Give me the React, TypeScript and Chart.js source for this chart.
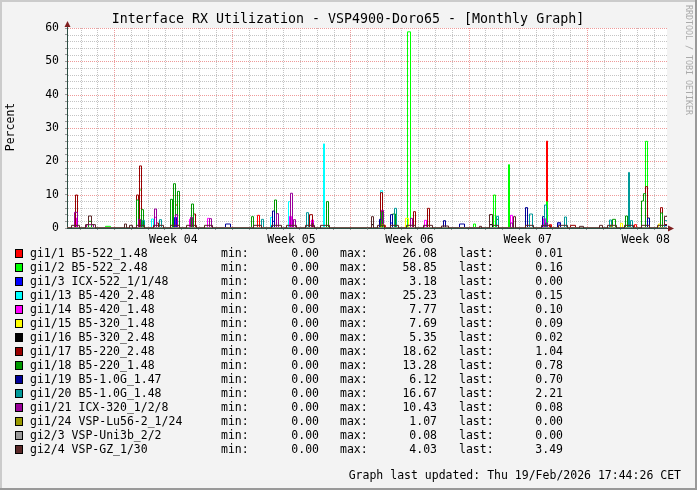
import React, { useEffect, useRef } from 'react';
import { Chart, registerables } from 'chart.js';

Chart.register(...registerables);

// ---- axis / time data (x in days relative to Sun 18 Jan 2026 00:00) ----
const X_MIN = -2.804;
const X_MAX = 32.762;
const DAY_TICKS = [-2, -1, 0, 1, 2, 3, 4, 5, 6, 7, 8, 9, 10, 11, 12, 13, 14, 15, 16, 17, 18, 19, 20, 21, 22, 23, 24, 25, 26, 27, 28, 29, 30, 31, 32];
const WEEK_LABELS = ['Week 04', 'Week 05', 'Week 06', 'Week 07', 'Week 08'];
const WEEK_LABEL_POS = [3.5, 10.5, 17.5, 24.5, 31.5];
const Y_TICKS = [0, 2, 4, 6, 8, 10, 12, 14, 16, 18, 20, 22, 24, 26, 28, 30, 32, 34, 36, 38, 40, 42, 44, 46, 48, 50, 52, 54, 56, 58, 60];
const Y_LABELED = [0, 10, 20, 30, 40, 50, 60];

// ---- legend ----
const SERIES_NAMES = [
  'gi1/1 B5-522_1.48', 'gi1/2 B5-522_2.48', 'gi1/3 ICX-522_1/1/48', 'gi1/13 B5-420_2.48',
  'gi1/14 B5-420_1.48', 'gi1/15 B5-320_1.48', 'gi1/16 B5-320_2.48', 'gi1/17 B5-220_2.48',
  'gi1/18 B5-220_1.48', 'gi1/19 B5-1.0G_1.47', 'gi1/20 B5-1.0G_1.48', 'gi1/21 ICX-320_1/2/8',
  'gi1/24 VSP-Lu56-2_1/24', 'gi2/3 VSP-Uni3b_2/2', 'gi2/4 VSP-GZ_1/30',
];
const SERIES_COLORS = [
  '#FF0000', '#00FF00', '#0000FF', '#00FFFF', '#FF00FF', '#FFFF00', '#000000', '#990000',
  '#009900', '#000099', '#009999', '#990099', '#999900', '#999999', '#5A2828',
];
const LEGEND_MIN = [0, 0, 0, 0, 0, 0, 0, 0, 0, 0, 0, 0, 0, 0, 0];
const LEGEND_MAX = [26.08, 58.85, 3.18, 25.23, 7.77, 7.69, 5.35, 18.62, 13.28, 6.12, 16.67, 10.43, 1.07, 0.08, 4.03];
const LEGEND_LAST = [0.01, 0.16, 0.0, 0.15, 0.1, 0.09, 0.02, 1.04, 0.78, 0.7, 2.21, 0.08, 0.0, 0.0, 3.49];

// ---- series samples: [day, value, width in days (optional)] ----
const GI1_1 = [[3.66, 6.9], [8.52, 3.8], [16.0, 0.8], [25.65, 26.08, 0.06], [25.83, 1.0], [30.87, 1.0]];
const GI1_2 = [[-0.37, 0.5, 0.3], [1.55, 11.4], [17.44, 58.85, 0.178], [21.38, 1.2], [22.54, 9.9], [23.4, 19.0, 0.06], [25.65, 7.9, 0.06], [31.52, 26.0]];
const GI1_3 = [[3.6, 3.18], [9.41, 2.0], [16.46, 1.5], [25.47, 2.4], [26.36, 1.2]];
const GI1_13 = [[1.73, 1.0], [2.29, 2.7], [9.29, 3.2], [10.39, 7.9], [12.43, 25.23, 0.06], [15.81, 11.2]];
const GI1_14 = [[-2.3, 3.0], [2.47, 3.2], [4.49, 2.6], [5.61, 2.9], [10.46, 3.5], [11.72, 2.4], [18.42, 2.3], [23.55, 3.8], [25.5, 2.8]];
const GI1_15 = [[15.87, 1.5], [17.35, 2.9], [30.06, 1.4], [31.64, 3.0], [32.3, 1.2]];
const GI1_16 = [[15.28, 1.0], [22.33, 1.0]];
const GI1_17 = [[-2.24, 9.9], [1.4, 9.9], [1.58, 18.62], [2.55, 1.5], [4.78, 4.2], [11.66, 4.0], [15.84, 10.6], [17.77, 4.9], [18.6, 5.9], [27.19, 0.8, 0.3], [31.52, 12.4], [32.41, 6.1]];
const GI1_18 = [[-1.44, 2.0], [1.38, 8.4], [1.7, 5.5], [3.39, 8.6], [3.54, 13.28], [3.81, 11.0], [4.61, 7.2], [8.22, 3.4], [9.53, 8.4], [12.61, 7.9], [15.81, 4.8], [16.58, 4.2], [22.69, 2.6], [29.62, 2.6], [30.39, 3.6], [31.3, 8.1], [31.45, 10.3], [32.41, 4.5]];
const GI1_19 = [[3.69, 2.5], [6.74, 1.2, 0.3], [9.41, 5.1], [15.78, 2.6], [16.46, 4.0], [19.6, 2.2], [20.61, 1.2, 0.3], [24.46, 6.12], [25.47, 3.4], [26.36, 1.6], [31.64, 3.0]];
const GI1_20 = [[1.73, 2.3], [2.71, 2.5], [8.76, 2.6], [11.48, 4.6], [16.69, 5.9], [22.69, 3.5], [24.7, 4.2], [25.55, 6.9], [26.72, 3.3], [29.44, 2.4], [30.51, 16.67, 0.06], [30.64, 2.2]];
const GI1_21 = [[-2.27, 4.7], [-1.44, 1.0, 0.4], [1.52, 2.6], [2.47, 5.7], [3.69, 4.0], [4.55, 3.2], [5.73, 2.8], [9.7, 4.3], [10.53, 10.43], [10.71, 2.5], [11.72, 1.5], [15.87, 5.3], [17.59, 2.9], [23.55, 1.5], [25.6, 1.5]];
const GI1_24 = [[15.9, 1.07], [29.5, 0.8]];
const GI2_3 = [[10.0, 0.08]];
const GI2_4 = [
  [-2.3, 0.8, 0.5], [-1.44, 3.6], [-1.4, 1.0, 0.6], [0.69, 1.2], [0.99, 0.8], [1.55, 0.8, 0.5],
  [2.6, 0.8, 0.6], [3.6, 0.8, 0.5], [4.6, 0.8, 0.6], [5.6, 0.8, 0.5], [8.5, 0.8, 0.5], [9.6, 0.8, 0.6],
  [10.5, 0.8, 0.6], [11.6, 0.8, 0.5], [12.5, 0.8, 0.5], [15.28, 3.4], [15.8, 0.8, 0.4], [16.6, 0.8, 0.5],
  [17.6, 0.8, 0.5], [18.6, 0.8, 0.5], [19.6, 0.6, 0.4], [21.68, 0.5], [22.33, 4.03], [22.6, 0.8, 0.4],
  [23.71, 3.4], [24.6, 0.8, 0.5], [25.6, 0.8, 0.5], [26.6, 0.8, 0.5], [27.61, 0.5], [27.78, 0.5],
  [28.85, 0.8], [29.5, 0.8, 0.5], [30.5, 0.8, 0.5], [31.5, 0.8, 0.5], [32.4, 0.8, 0.4],
];
const SERIES_SAMPLES = [GI1_1, GI1_2, GI1_3, GI1_13, GI1_14, GI1_15, GI1_16, GI1_17, GI1_18, GI1_19, GI1_20, GI1_21, GI1_24, GI2_3, GI2_4];

const TITLE = 'Interface RX Utilization - VSP4900-Doro65 - [Monthly Graph]';
const Y_TITLE = 'Percent';
const FOOTER = 'Graph last updated: Thu 19/Feb/2026 17:44:26 CET';
const WATERMARK = 'RRDTOOL / TOBI OETIKER';

const W = 697;
const H = 490;
const PLOT_PX = 600;
const MONO = '"DejaVu Sans Mono", monospace';
const SAMPLE_W = 0.12;
const MINOR = '#C4C4C4';
const MAJOR = '#EE9A9A';
const AXIS = '#2C4D43';
const ARROW = '#7F1F1F';

// sample the read-off values onto a one-pixel-per-bin grid (edges on half pixels -> crisp steps)
function buildSteps(samples: number[][], last: number) {
  const bin = (X_MAX - X_MIN) / PLOT_PX;
  const n = PLOT_PX + 1;
  const vals = new Array(n).fill(0);
  for (const s of samples) {
    const c = s[0], v = s[1], w = s.length > 2 ? s[2] : SAMPLE_W;
    for (let i = 0; i < n; i++) {
      const mid = X_MIN + i * bin;
      if (mid >= c - w / 2 && mid < c + w / 2) vals[i] = Math.max(vals[i], v);
    }
  }
  for (let i = n - 3; i < n; i++) vals[i] = last;
  const pts: { x: number; y: number }[] = [];
  let prev = NaN;
  for (let i = 0; i < n; i++) {
    if (vals[i] !== prev) {
      pts.push({ x: i === 0 ? X_MIN : X_MIN + (i - 0.5) * bin, y: vals[i] });
      prev = vals[i];
    }
  }
  pts.push({ x: X_MAX, y: prev });
  return pts;
}

const decor = {
  id: 'rrdDecor',
  beforeDraw(chart: any) {
    const { ctx, chartArea: a } = chart;
    ctx.save();
    ctx.fillStyle = '#F3F3F3';
    ctx.fillRect(0, 0, W, H);
    ctx.fillStyle = '#CBCBCB';
    ctx.fillRect(0, 0, W, 2);
    ctx.fillRect(0, 0, 2, H);
    ctx.fillStyle = '#999999';
    ctx.fillRect(0, H - 2, W, 2);
    ctx.fillRect(W - 2, 0, 2, H);
    ctx.fillStyle = '#FFFFFF';
    ctx.fillRect(a.left, a.top, a.right - a.left, a.bottom - a.top);
    ctx.restore();
  },
  beforeDatasetsDraw(chart: any) {
    // dotted rrdtool-style grid, positioned by the chart's own scales
    const { ctx, chartArea: a, scales } = chart;
    const xs = scales.x, ys = scales.y;
    ctx.save();
    ctx.lineWidth = 1;
    ctx.setLineDash([1, 1]);
    const pass = (major: boolean) => {
      ctx.strokeStyle = major ? MAJOR : MINOR;
      ctx.beginPath();
      for (const d of DAY_TICKS) {
        if ((d % 7 === 0) !== major) continue;
        const px = Math.round(xs.getPixelForValue(d)) + 0.5;
        ctx.moveTo(px, a.top);
        ctx.lineTo(px, a.bottom);
      }
      for (const v of Y_TICKS) {
        if (v === 0 || (v % 10 === 0) !== major) continue;
        const py = Math.round(ys.getPixelForValue(v)) + 0.5;
        ctx.moveTo(a.left + 1, py);
        ctx.lineTo(a.right, py);
      }
      ctx.stroke();
    };
    pass(false);
    pass(true);
    ctx.restore();
  },
  afterDraw(chart: any) {
    const { ctx, chartArea: a } = chart;
    ctx.save();
    // axis extensions and arrows
    ctx.strokeStyle = AXIS;
    ctx.lineWidth = 1;
    ctx.beginPath();
    ctx.moveTo(a.left + 0.5, a.top);
    ctx.lineTo(a.left + 0.5, a.top - 5);
    ctx.moveTo(a.right, a.bottom + 0.5);
    ctx.lineTo(a.right + 3, a.bottom + 0.5);
    ctx.stroke();
    ctx.fillStyle = ARROW;
    ctx.beginPath();
    ctx.moveTo(a.left + 0.5, a.top - 7);
    ctx.lineTo(a.left - 2.5, a.top - 1);
    ctx.lineTo(a.left + 3.5, a.top - 1);
    ctx.closePath();
    ctx.fill();
    ctx.beginPath();
    ctx.moveTo(a.right + 7, a.bottom + 0.5);
    ctx.lineTo(a.right + 1, a.bottom - 2.5);
    ctx.lineTo(a.right + 1, a.bottom + 3.5);
    ctx.closePath();
    ctx.fill();

    // title
    ctx.fillStyle = '#000';
    ctx.font = '13.3px ' + MONO;
    ctx.textAlign = 'center';
    ctx.textBaseline = 'middle';
    ctx.fillText(TITLE, 348, 20);

    // y title
    ctx.font = '11.5px ' + MONO;
    ctx.save();
    ctx.translate(11, 127);
    ctx.rotate(-Math.PI / 2);
    ctx.fillText(Y_TITLE, 0, 0);
    ctx.restore();

    // watermark
    ctx.save();
    ctx.fillStyle = '#AAAAAA';
    ctx.font = '8.3px ' + MONO;
    ctx.translate(688, 5);
    ctx.rotate(Math.PI / 2);
    ctx.textAlign = 'left';
    ctx.fillText(WATERMARK, 0, 0);
    ctx.restore();

    // legend table
    ctx.font = '11.5px ' + MONO;
    for (let i = 0; i < SERIES_NAMES.length; i++) {
      const y = 254 + 14 * i;
      ctx.fillStyle = SERIES_COLORS[i];
      ctx.fillRect(15, y - 4, 8, 8);
      ctx.strokeStyle = '#000';
      ctx.lineWidth = 1;
      ctx.strokeRect(15.5, y - 4.5, 7, 8);
      ctx.fillStyle = '#000';
      ctx.textAlign = 'left';
      ctx.fillText(SERIES_NAMES[i], 30, y);
      ctx.fillText('min:', 221, y);
      ctx.fillText('max:', 340, y);
      ctx.fillText('last:', 459, y);
      ctx.textAlign = 'right';
      ctx.fillText(LEGEND_MIN[i].toFixed(2), 319, y);
      ctx.fillText(LEGEND_MAX[i].toFixed(2), 437, y);
      ctx.fillText(LEGEND_LAST[i].toFixed(2), 563, y);
    }
    ctx.textAlign = 'right';
    ctx.fillText(FOOTER, 681, 476);
    ctx.restore();
  },
};

export default function App() {
  const ref = useRef<HTMLCanvasElement | null>(null);
  useEffect(() => {
    if (!ref.current) return;
    Chart.defaults.font.family = MONO;
    const n = SERIES_NAMES.length;
    const datasets = SERIES_NAMES.map((name, i) => ({
      label: name,
      data: buildSteps(SERIES_SAMPLES[i], LEGEND_LAST[i]),
      borderColor: SERIES_COLORS[i],
      backgroundColor: SERIES_COLORS[i],
      borderWidth: 1,
      pointRadius: 0,
      fill: false,
      stepped: true,
      tension: 0,
      order: n - i,
    }));
    const xTicks = [...DAY_TICKS, ...WEEK_LABEL_POS].sort((p, q) => p - q);
    const chart = new Chart(ref.current, {
      type: 'line',
      data: { datasets },
      plugins: [decor],
      options: {
        animation: false,
        responsive: false,
        devicePixelRatio: 1,
        events: [],
        parsing: false,
        normalized: true,
        layout: { padding: { left: 0, top: 28, right: 30, bottom: 0 } },
        plugins: { legend: { display: false }, title: { display: false }, tooltip: { enabled: false } },
        scales: {
          x: {
            type: 'linear',
            min: X_MIN,
            max: X_MAX,
            afterBuildTicks: (s: any) => {
              s.ticks = xTicks.map((v) => ({ value: v }));
            },
            afterFit: (s: any) => {
              s.height = H - 228;
            },
            ticks: {
              autoSkip: false,
              maxRotation: 0,
              minRotation: 0,
              padding: 3,
              color: '#000',
              font: { family: MONO, size: 11.5 },
              callback: (v: any) => {
                const k = WEEK_LABEL_POS.indexOf(Number(v));
                return k >= 0 ? WEEK_LABELS[k] : '';
              },
            },
            grid: {
              drawOnChartArea: false,
              lineWidth: 1,
              tickLength: 2,
              tickColor: (c: any) => {
                const v = c.tick ? c.tick.value : NaN;
                return Number.isInteger(v) ? '#999999' : 'transparent';
              },
            },
            border: { display: true, color: AXIS, width: 1 },
          },
          y: {
            type: 'linear',
            min: 0,
            max: 60,
            afterBuildTicks: (s: any) => {
              s.ticks = Y_TICKS.map((v) => ({ value: v }));
            },
            afterFit: (s: any) => {
              s.width = 67;
            },
            ticks: {
              autoSkip: false,
              padding: 6,
              color: '#000',
              font: { family: MONO, size: 11.5 },
              callback: (v: any) => (Y_LABELED.indexOf(Number(v)) >= 0 ? String(v) : ''),
            },
            grid: {
              drawOnChartArea: false,
              lineWidth: 1,
              tickLength: 2,
              tickColor: '#999999',
            },
            border: { display: true, color: AXIS, width: 1 },
          },
        },
      },
    } as any);
    return () => chart.destroy();
  }, []);
  return (
    <div style={{ position: 'fixed', left: 0, top: 0, width: W, height: H }}>
      <canvas ref={ref} width={W} height={H} style={{ display: 'block' }} />
    </div>
  );
}
